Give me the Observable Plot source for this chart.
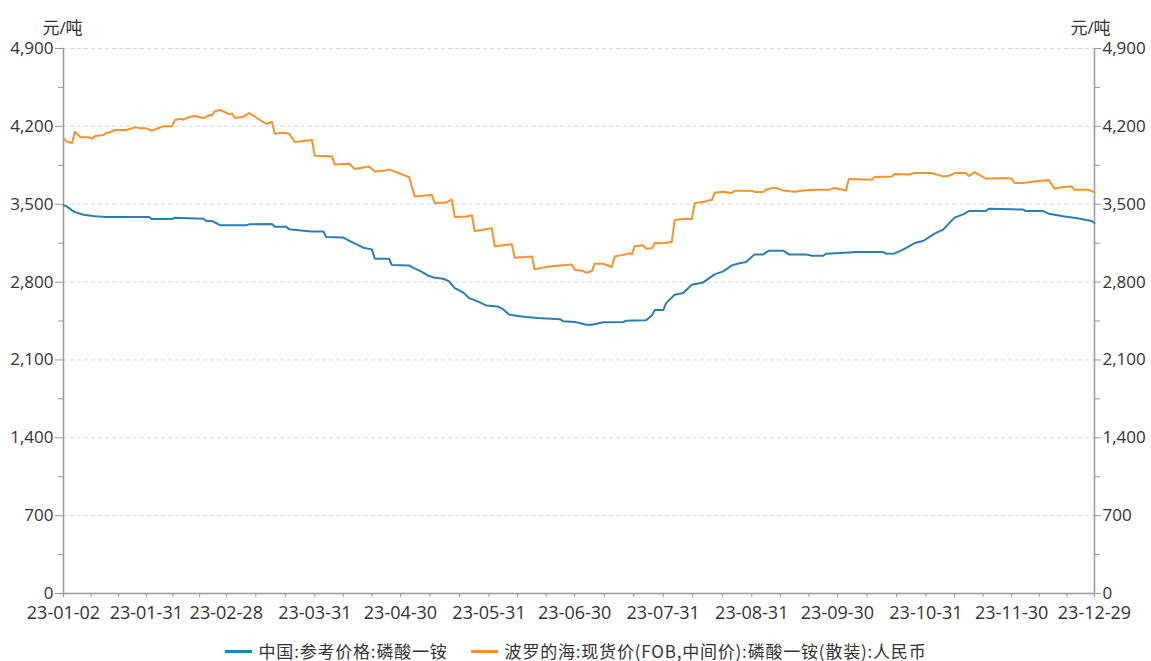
<!DOCTYPE html>
<html>
<head>
<meta charset="utf-8">
<script src="https://cdn.jsdelivr.net/npm/d3@7"></script>
<script src="https://cdn.jsdelivr.net/npm/@observablehq/plot@0.6"></script>
<style>
  html, body { margin: 0; background: #fff; overflow: hidden; }
  #legend { display: flex; justify-content: center; align-items: center; gap: 23px;
    font-family: "Noto Sans CJK SC", sans-serif; font-size: 17px; letter-spacing: 0.8px; color: #333;
    height: 22px; line-height: 22px; padding-top: 15px; }
  .item { display: flex; align-items: center; gap: 7px; line-height: 22px; }
  .sw { width: 27px; height: 3px; }
</style>
</head>
<body>
<div id="chart"></div>
<div id="legend"></div>
<script>
// ---------- data ----------
const seriesNames = ["中国:参考价格:磷酸一铵", "波罗的海:现货价(FOB,中间价):磷酸一铵(散装):人民币"];
const seriesColors = ["#2e7db0", "#f8922e"];
const unitLabel = "元/吨";

const xTickDates = ["2023-01-02","2023-01-31","2023-02-28","2023-03-31","2023-04-30","2023-05-31",
  "2023-06-30","2023-07-31","2023-08-31","2023-09-30","2023-10-31","2023-11-30","2023-12-29"];
const yTicks = [0, 700, 1400, 2100, 2800, 3500, 4200, 4900];

const chinaDates = ["2023-01-02","2023-01-03","2023-01-05","2023-01-06","2023-01-09","2023-01-13","2023-01-17",
  "2023-02-01","2023-02-02","2023-02-09","2023-02-10","2023-02-20","2023-02-21","2023-02-23","2023-02-26",
  "2023-03-07","2023-03-08","2023-03-16","2023-03-17","2023-03-21","2023-03-22","2023-03-27","2023-03-30",
  "2023-04-03","2023-04-04","2023-04-10","2023-04-13","2023-04-17","2023-04-20","2023-04-21","2023-04-26","2023-04-27",
  "2023-05-03","2023-05-04","2023-05-07","2023-05-10","2023-05-12","2023-05-15","2023-05-17","2023-05-19",
  "2023-05-22","2023-05-24","2023-05-27","2023-05-30","2023-06-03","2023-06-05","2023-06-07","2023-06-10",
  "2023-06-13","2023-06-17","2023-06-25","2023-06-26","2023-06-30","2023-07-02","2023-07-04","2023-07-06",
  "2023-07-10","2023-07-17","2023-07-18","2023-07-25","2023-07-27","2023-07-28","2023-07-31","2023-08-01",
  "2023-08-04","2023-08-07","2023-08-10","2023-08-14","2023-08-18","2023-08-21","2023-08-24","2023-08-26",
  "2023-08-29","2023-09-01","2023-09-04","2023-09-06","2023-09-11","2023-09-13","2023-09-19","2023-09-21",
  "2023-09-25","2023-09-26","2023-10-01","2023-10-07","2023-10-16","2023-10-17","2023-10-20","2023-10-23",
  "2023-10-27","2023-10-30","2023-11-03","2023-11-06","2023-11-10","2023-11-13","2023-11-15","2023-11-21",
  "2023-11-22","2023-11-30","2023-12-04","2023-12-05","2023-12-11","2023-12-13","2023-12-18","2023-12-23",
  "2023-12-28","2023-12-29"];
const chinaValues = [3490,3483,3445,3429,3406,3391,3384,
  3384,3366,3366,3379,3369,3349,3349,3310,
  3310,3319,3322,3298,3298,3274,3262,3255,
  3255,3205,3200,3160,3109,3094,3010,3010,2953,
  2950,2935,2899,2854,2839,2830,2806,2746,
  2705,2656,2626,2590,2581,2554,2509,2494,
  2485,2476,2465,2447,2442,2429,2417,2417,
  2438,2441,2453,2456,2500,2548,2548,2611,
  2686,2701,2776,2797,2869,2896,2950,2965,
  2980,3049,3049,3082,3082,3049,3049,3037,
  3037,3055,3061,3070,3070,3055,3058,3091,
  3151,3169,3235,3271,3379,3409,3438,3438,
  3460,3454,3452,3438,3438,3415,3391,3373,
  3349,3331];

const balticDates = ["2023-01-02","2023-01-03","2023-01-05","2023-01-06","2023-01-08","2023-01-11","2023-01-12",
  "2023-01-13","2023-01-16","2023-01-17","2023-01-18","2023-01-20","2023-01-24","2023-01-27","2023-01-29",
  "2023-01-31","2023-02-02","2023-02-04","2023-02-06","2023-02-09","2023-02-10","2023-02-12","2023-02-13",
  "2023-02-15","2023-02-17","2023-02-20","2023-02-22","2023-02-23","2023-02-24","2023-02-26","2023-03-01",
  "2023-03-02","2023-03-03","2023-03-06","2023-03-08","2023-03-14","2023-03-16","2023-03-17","2023-03-20",
  "2023-03-22","2023-03-24","2023-03-30","2023-03-31","2023-04-04","2023-04-06","2023-04-07","2023-04-12",
  "2023-04-14","2023-04-19","2023-04-21","2023-04-24","2023-04-26","2023-04-29","2023-05-03","2023-05-05",
  "2023-05-11","2023-05-12","2023-05-16","2023-05-18","2023-05-19","2023-05-23","2023-05-25","2023-05-26",
  "2023-06-01","2023-06-02","2023-06-05","2023-06-08","2023-06-09","2023-06-15","2023-06-16","2023-06-21",
  "2023-06-27","2023-06-29","2023-06-30","2023-07-03","2023-07-04","2023-07-06","2023-07-07","2023-07-10",
  "2023-07-13","2023-07-14","2023-07-18","2023-07-19","2023-07-20","2023-07-21","2023-07-24","2023-07-25",
  "2023-07-27","2023-07-28","2023-07-31","2023-08-03","2023-08-04","2023-08-08","2023-08-10","2023-08-11",
  "2023-08-14","2023-08-16","2023-08-17","2023-08-18","2023-08-21","2023-08-24","2023-08-25","2023-08-31",
  "2023-09-01","2023-09-04","2023-09-05","2023-09-08","2023-09-11","2023-09-15","2023-09-18","2023-09-22",
  "2023-09-27","2023-09-29","2023-10-03","2023-10-04","2023-10-12","2023-10-13","2023-10-19","2023-10-20",
  "2023-10-25","2023-10-27","2023-11-02","2023-11-06","2023-11-08","2023-11-10","2023-11-14","2023-11-15",
  "2023-11-17","2023-11-21","2023-11-22","2023-11-28","2023-11-30","2023-12-01","2023-12-04","2023-12-07",
  "2023-12-13","2023-12-15","2023-12-18","2023-12-21","2023-12-22","2023-12-27","2023-12-29"];
const balticValues = [4095,4065,4050,4149,4101,4101,4089,
  4113,4122,4143,4145,4167,4167,4191,4182,
  4182,4161,4182,4200,4200,4257,4269,4260,
  4284,4293,4275,4299,4299,4338,4347,4308,
  4315,4275,4287,4320,4221,4239,4134,4143,
  4135,4059,4077,3935,3933,3930,3858,3864,
  3816,3840,3795,3800,3813,3783,3744,3570,
  3582,3510,3515,3543,3384,3390,3400,3259,
  3283,3121,3130,3139,3019,3031,2914,2941,
  2953,2959,2911,2899,2884,2899,2965,2965,
  2935,3031,3049,3060,3049,3121,3130,3100,
  3103,3151,3148,3163,3358,3370,3365,3510,
  3519,3535,3537,3604,3613,3600,3622,3622,
  3609,3610,3633,3649,3624,3613,3624,3631,
  3631,3645,3624,3726,3720,3744,3750,3771,
  3768,3780,3780,3750,3755,3780,3780,3753,
  3789,3729,3732,3735,3732,3690,3690,3702,
  3717,3640,3654,3660,3630,3630,3606];

// ---------- build ----------
const parse = d3.utcParse("%Y-%m-%d");
const rows = [];
chinaDates.forEach((d, i) => rows.push({date: parse(d), value: chinaValues[i], series: seriesNames[0]}));
balticDates.forEach((d, i) => rows.push({date: parse(d), value: balticValues[i], series: seriesNames[1]}));

const majorX = xTickDates.map(parse);
const minorX = [];
for (let i = 0; i < majorX.length - 1; i++) {
  const a = +majorX[i], b = +majorX[i + 1];
  minorX.push(new Date(a + (b - a) / 3), new Date(a + 2 * (b - a) / 3));
}
const yMinor = yTicks.slice(1).map((v, i) => (v + yTicks[i]) / 2);
const axisStroke = "#999";

const chart = Plot.plot({
  width: 1151,
  height: 625,
  marginLeft: 63,
  marginRight: 57,
  marginTop: 48,
  marginBottom: 32,
  style: {fontFamily: '"Open Sans", "Noto Sans CJK SC", sans-serif', fontSize: "17px", color: "#333", background: "#fff", overflow: "visible"},
  x: {type: "utc", domain: [majorX[0], majorX[majorX.length - 1]]},
  y: {domain: [yTicks[0], yTicks[yTicks.length - 1]]},
  color: {domain: seriesNames, range: seriesColors},
  marks: [
    Plot.gridY(yTicks.slice(1), {stroke: "#d9d9d9", strokeOpacity: 1, strokeDasharray: "4,3"}),
    Plot.frame({anchor: "left", stroke: axisStroke, strokeWidth: 1.5}),
    Plot.frame({anchor: "right", stroke: axisStroke, strokeWidth: 1.5}),
    Plot.frame({anchor: "bottom", stroke: axisStroke, strokeWidth: 1.5}),
    Plot.axisY(yTicks, {anchor: "left", tickSize: 8, tickPadding: 2, tickFormat: d3.format(","), stroke: axisStroke, fill: "#333", label: null}),
    Plot.axisY(yMinor, {anchor: "left", tickSize: 5, tickFormat: () => "", stroke: axisStroke, label: null}),
    Plot.axisY(yTicks, {anchor: "right", tickSize: 6, tickPadding: 2, tickFormat: d3.format(","), stroke: axisStroke, fill: "#333", label: null}),
    Plot.axisY(yMinor, {anchor: "right", tickSize: 5, tickFormat: () => "", stroke: axisStroke, label: null}),
    Plot.axisX(majorX, {tickSize: 4, tickPadding: 9, fontSize: 18, tickFormat: d3.utcFormat("%y-%m-%d"), stroke: axisStroke, fill: "#333", label: null}),
    Plot.axisX(minorX, {tickSize: 4, tickFormat: () => "", stroke: axisStroke, label: null}),
    Plot.line(rows, {x: "date", y: "value", z: "series", stroke: "series", strokeWidth: 2}),
    Plot.text([unitLabel], {text: d => d, frameAnchor: "top-left", dy: -27, dx: -1, textAnchor: "middle", fontSize: 17, fill: "#333"}),
    Plot.text([unitLabel], {text: d => d, frameAnchor: "top-right", dy: -27, dx: -4, textAnchor: "middle", fontSize: 17, fill: "#333"})
  ]
});
document.getElementById("chart").appendChild(chart);

const legend = document.getElementById("legend");
seriesNames.forEach((name, i) => {
  const item = document.createElement("div");
  item.className = "item";
  const sw = document.createElement("span");
  sw.className = "sw";
  sw.style.background = seriesColors[i];
  const label = document.createElement("span");
  label.textContent = name;
  item.appendChild(sw);
  item.appendChild(label);
  legend.appendChild(item);
});
</script>
</body>
</html>
